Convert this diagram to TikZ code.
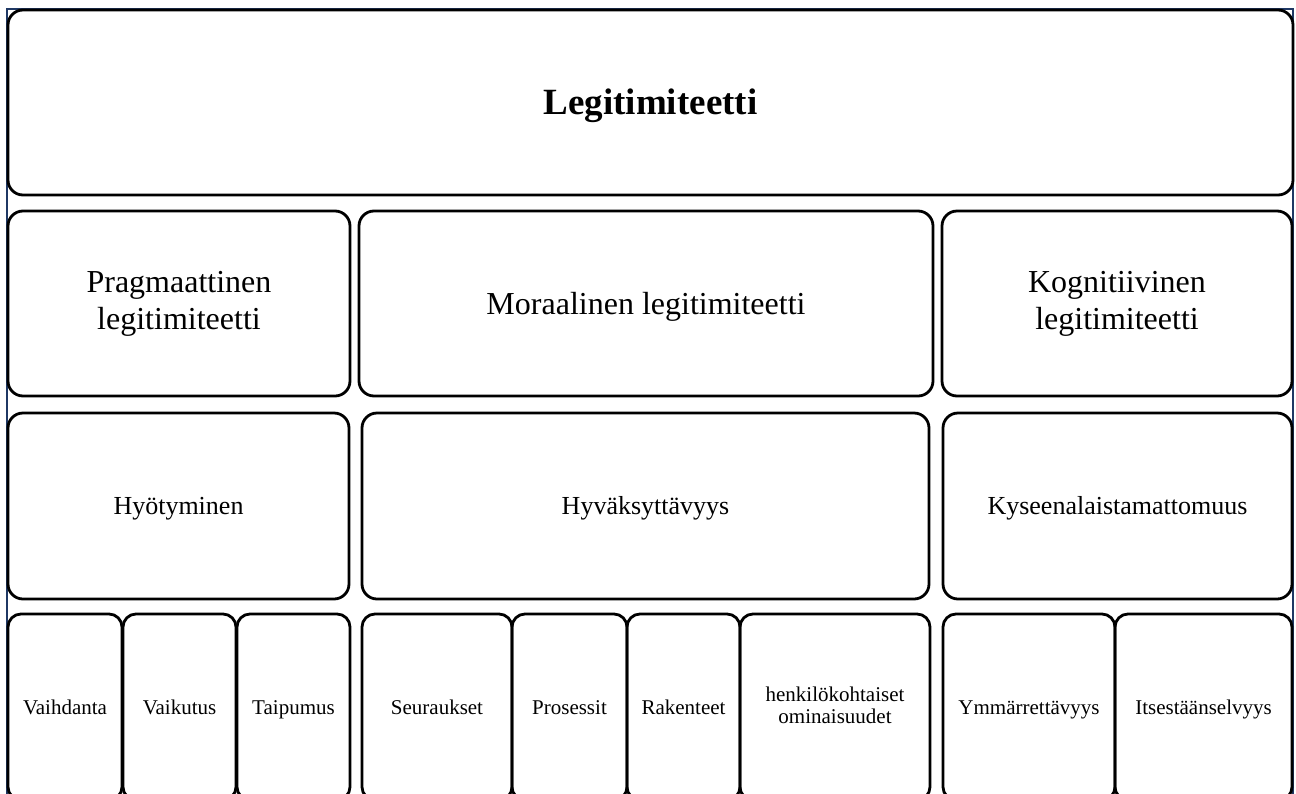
\documentclass[tikz,border=0pt]{standalone}
\usepackage{fontspec}
\setmainfont{Liberation Serif}
\usepackage{tikz}
\usepackage{xcolor}
\usetikzlibrary{positioning}

\definecolor{framenavy}{HTML}{1F3864}
\newcommand{\boxstrut}{\rule[-0.216em]{0pt}{1.107em}}

\begin{document}
\begin{tikzpicture}[
          x=1pt, y=-1pt,
          every node/.style={font=\fontsize{21}{22}\selectfont},
          box/.style={draw, line width=2.8pt, rounded corners=15pt, align=center, inner sep=0pt,
                      execute at begin node=\boxstrut, execute at end node=\boxstrut},
          leaf/.style={box, rounded corners=13pt, minimum height=186pt},
          mid/.style={font=\fontsize{26}{30}\selectfont},
          big/.style={font=\fontsize{32}{37}\selectfont},
          head/.style={font=\fontsize{37}{44}\selectfont\bfseries}
      ]
        \useasboundingbox (0,0) rectangle (1296,793);
        \clip (0,0) rectangle (1296,793);
        \draw[framenavy, line width=2pt] (7,810) -- (7,9) -- (1293,9) -- (1293,810);

        % top level
        \node[box, head, minimum width=1285pt, minimum height=185pt] (legit) at (650.5,102.5) {Legitimiteetti};

        % three kinds
        \node[box, big, minimum width=342pt, minimum height=185pt] (prag) at (179,303.5) {Pragmaattinen\\legitimiteetti};
        \node[box, big, minimum width=574pt, minimum height=185pt] (moral) at (646,303.5) {Moraalinen legitimiteetti};
        \node[box, big, minimum width=350pt, minimum height=185pt] (kogn) at (1117,303.5) {Kognitiivinen\\legitimiteetti};

        \node[box, mid, minimum width=341pt, minimum height=186pt] (hyot) at (178.5,506) {Hyötyminen};
        \node[box, mid, minimum width=567pt, minimum height=186pt] (hyva) at (645.5,506) {Hyväksyttävyys};
        \node[box, mid, minimum width=349pt, minimum height=186pt] (kyse) at (1117.5,506) {Kyseenalaistamattomuus};

        % bottom row
        \node[leaf, minimum width=114pt] (vaih) at (65,707) {Vaihdanta};
        \node[leaf, minimum width=113pt] (vaik) at (179.5,707) {Vaikutus};
        \node[leaf, minimum width=113pt] (taip) at (293.5,707) {Taipumus};
        \node[leaf, minimum width=150pt] (seur) at (437,707) {Seuraukset};
        \node[leaf, minimum width=115pt] (pros) at (569.5,707) {Prosessit};
        \node[leaf, minimum width=113pt] (rake) at (683.5,707) {Rakenteet};
        \node[leaf, minimum width=190pt] (henk) at (835,707) {henkilökohtaiset\\ominaisuudet};
        \node[leaf, minimum width=172pt] (ymma) at (1029,707) {Ymmärrettävyys};
        \node[leaf, minimum width=177pt] (itse) at (1203.5,707) {Itsestäänselvyys};
      \end{tikzpicture}
\end{document}
